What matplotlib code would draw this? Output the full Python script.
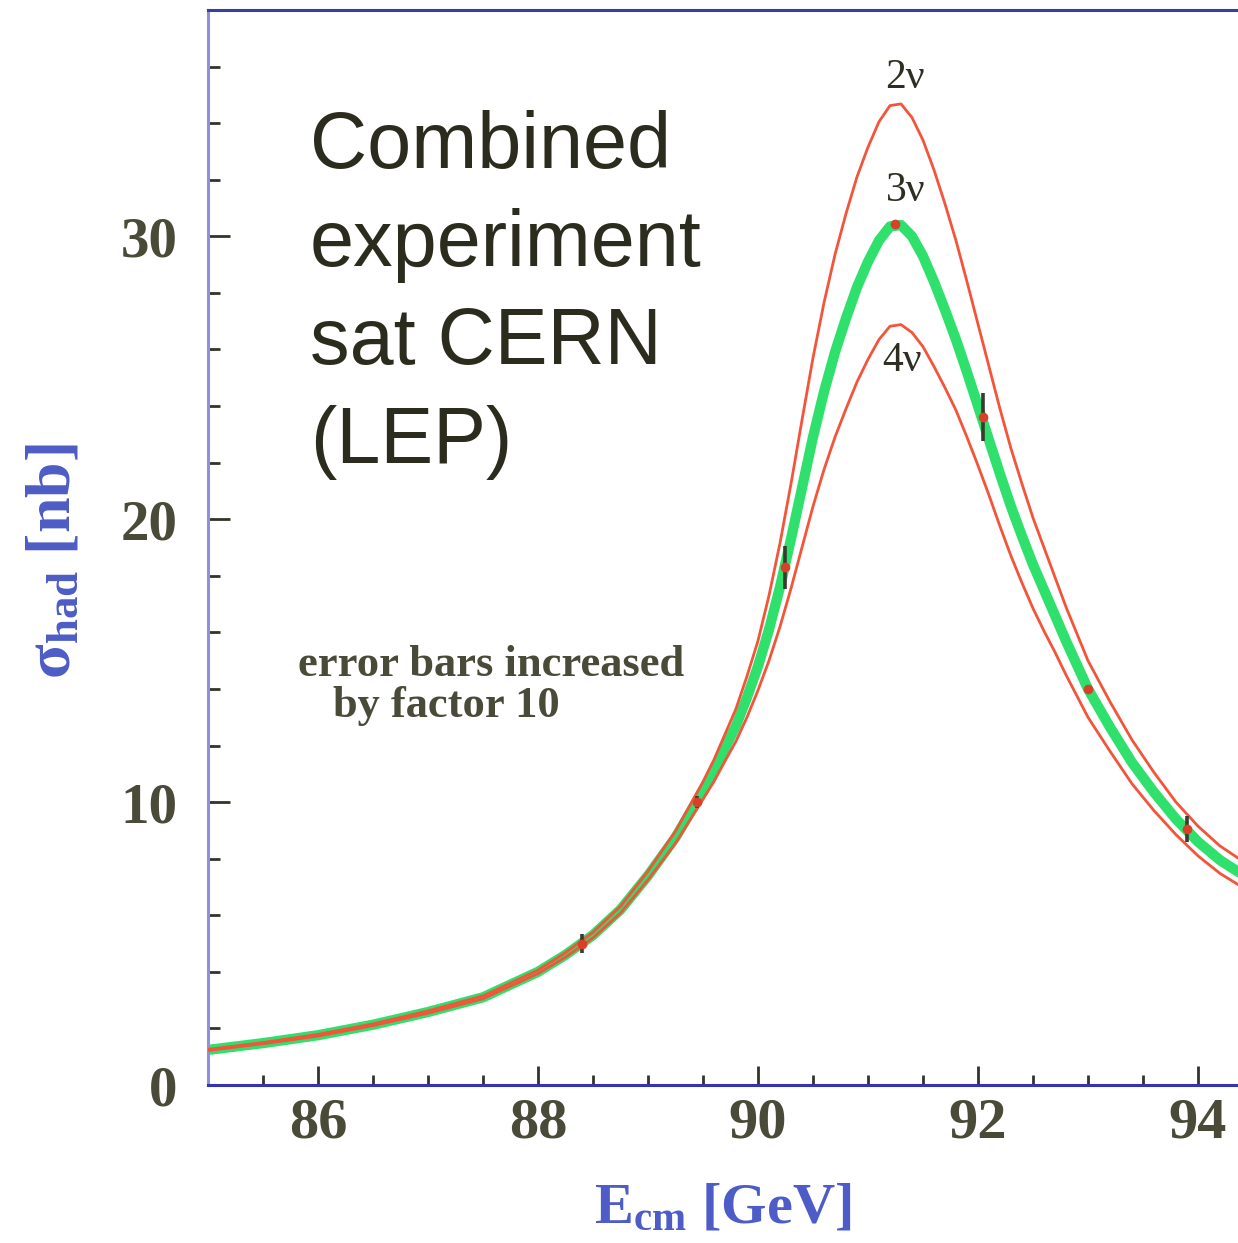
import matplotlib
matplotlib.use("Agg")
import matplotlib.pyplot as plt
from matplotlib.ticker import MultipleLocator

plt.rcParams['mathtext.fontset'] = 'custom'
plt.rcParams['mathtext.bf'] = 'Liberation Serif:bold'
plt.rcParams['mathtext.rm'] = 'Liberation Serif'
plt.rcParams['mathtext.it'] = 'Liberation Serif:italic'

# ---- data ----
energy = [85.0, 85.5, 86.0, 86.5, 87.0, 87.5, 88.0, 88.25, 88.5, 88.75, 89.0, 89.25,
          89.5, 89.6, 89.7, 89.8, 89.9, 90.0, 90.1, 90.2, 90.3, 90.4, 90.5, 90.6,
          90.7, 90.8, 90.9, 91.0, 91.1, 91.2, 91.3, 91.4, 91.5, 91.6, 91.7, 91.8,
          91.9, 92.0, 92.1, 92.2, 92.3, 92.4, 92.5, 92.6, 92.7, 92.8, 92.9, 93.0,
          93.2, 93.4, 93.6, 93.8, 94.0, 94.2, 94.4]
sigma_3nu = [1.24, 1.48, 1.76, 2.13, 2.58, 3.10, 4.00, 4.60, 5.30, 6.20, 7.40, 8.75,
             10.4, 11.1, 11.9, 12.7, 13.7, 14.8, 16.1, 17.6, 19.3, 21.1, 22.9, 24.5,
             25.9, 27.1, 28.2, 29.1, 29.85, 30.35, 30.4, 30.0, 29.3, 28.4, 27.4, 26.35,
             25.2, 24.0, 22.8, 21.6, 20.45, 19.4, 18.4, 17.5, 16.6, 15.7, 14.85, 14.0,
             12.65, 11.4, 10.35, 9.4, 8.6, 7.95, 7.45]
sigma_2nu = [1.26, 1.50, 1.79, 2.16, 2.62, 3.15, 4.06, 4.68, 5.40, 6.32, 7.56, 8.97,
             10.72, 11.50, 12.40, 13.30, 14.45, 15.70, 17.30, 19.15, 21.25, 23.50, 25.70, 27.65,
             29.35, 30.80, 32.10, 33.15, 34.05, 34.62, 34.68, 34.20, 33.40, 32.35, 31.15, 29.85,
             28.40, 26.90, 25.40, 23.90, 22.50, 21.25, 20.05, 19.00, 17.95, 16.90, 15.95, 15.00,
             13.55, 12.20, 11.05, 10.00, 9.15, 8.45, 7.93]
sigma_4nu = [1.22, 1.46, 1.73, 2.10, 2.54, 3.05, 3.94, 4.52, 5.20, 6.08, 7.25, 8.55,
             10.10, 10.73, 11.45, 12.15, 13.00, 13.95, 15.00, 16.20, 17.55, 19.00, 20.45, 21.75,
             22.90, 23.90, 24.85, 25.65, 26.35, 26.82, 26.88, 26.60, 26.10, 25.40, 24.65, 23.85,
             22.90, 21.90, 20.85, 19.75, 18.70, 17.75, 16.85, 16.05, 15.30, 14.50, 13.75, 13.00,
             11.80, 10.65, 9.70, 8.85, 8.10, 7.48, 7.00]

meas_E = [88.4, 89.45, 90.25, 91.25, 92.05, 93.0, 93.9]
meas_sigma = [5.0, 10.0, 18.3, 30.45, 23.6, 14.0, 9.05]
meas_err = [0.35, 0.22, 0.75, 0.1, 0.85, 0.12, 0.45]

curve_labels = ["2ν", "3ν", "4ν"]
curve_label_pos = [(91.34, 35.6), (91.34, 31.6), (91.31, 25.6)]

x_ticks = [86, 88, 90, 92, 94]
y_ticks = [0, 10, 20, 30]

# ---- figure ----
fig = plt.figure(figsize=(12.38, 12.43), dpi=100)
ax = fig.add_axes([208/1238, 1-1085/1243, 1-208/1238, (1085-10)/1243])

red = '#f2553a'
green = '#2fe06c'
ax.plot(energy, sigma_3nu, color=green, lw=7.4, solid_capstyle='round',
        solid_joinstyle='round', zorder=2)
ax.plot(energy, sigma_2nu, color=red, lw=2.0, solid_joinstyle='round', zorder=3)
ax.plot(energy, sigma_4nu, color=red, lw=2.0, solid_joinstyle='round', zorder=3)

ax.errorbar(meas_E, meas_sigma, yerr=meas_err, fmt='none', ecolor='#3a3a30',
            elinewidth=2.6, capsize=0, zorder=4)
ax.plot(meas_E, meas_sigma, 'o', color='#d8402a', ms=7, mec='none', zorder=5)

for lab, (lx, ly) in zip(curve_labels, curve_label_pos):
    ax.text(lx, ly, lab, family='Liberation Serif', fontsize=30, color='#2e2e22',
            ha='center', va='center', zorder=6)

ax.set_xlim(85.0, 94.364)
ax.set_ylim(0, 38.0)
ax.set_xticks(x_ticks)
ax.set_yticks(y_ticks)
ax.xaxis.set_minor_locator(MultipleLocator(0.5))
ax.yaxis.set_minor_locator(MultipleLocator(2))

ax.spines['right'].set_visible(False)
ax.spines['left'].set_color('#8f8fdc')
ax.spines['left'].set_linewidth(2.2)
ax.spines['top'].set_color('#3c3ca8')
ax.spines['top'].set_linewidth(2.2)
ax.spines['bottom'].set_color('#3434b0')
ax.spines['bottom'].set_linewidth(2.2)

ax.tick_params(axis='x', which='major', direction='in', length=14, width=2,
               color='#333328', pad=9, labelsize=42, labelcolor='#4a4a38')
ax.tick_params(axis='x', which='minor', direction='in', length=7, width=2, color='#333328')
ax.tick_params(axis='y', which='major', direction='in', length=16, width=2,
               color='#333328', pad=22, labelsize=41, labelcolor='#4a4a38')
ax.tick_params(axis='y', which='minor', direction='in', length=8.5, width=2, color='#333328')
ax.tick_params(top=False, right=False, which='both')
for lab in ax.get_xticklabels() + ax.get_yticklabels():
    lab.set_family('Liberation Serif')
    lab.set_weight('bold')

ax.set_xlabel(r'E$_{\mathbf{cm}}$ [GeV]', family='Liberation Serif', weight='bold',
              fontsize=42, color='#4d5cc6', labelpad=24)
ax.set_ylabel(r'σ$_{\mathbf{had}}$ [nb]', family='Liberation Serif', weight='bold',
              fontsize=46, color='#4d5cc6', labelpad=26)
ax.yaxis.label.set_y(0.487)

fig.text(310/1238, 1-110/1243, "Combined\nexperiment\nsat CERN\n(LEP)",
         family='Liberation Sans', fontsize=57, color='#2c2c1e', ha='left', va='top',
         linespacing=1.4)
fig.text(298/1238, 1-676/1243, "error bars increased", family='Liberation Serif',
         weight='bold', fontsize=32, color='#4a4a38', ha='left', va='baseline')
fig.text(333/1238, 1-717/1243, "by factor 10", family='Liberation Serif',
         weight='bold', fontsize=32, color='#4a4a38', ha='left', va='baseline')

fig.savefig('out.png', dpi=100)
